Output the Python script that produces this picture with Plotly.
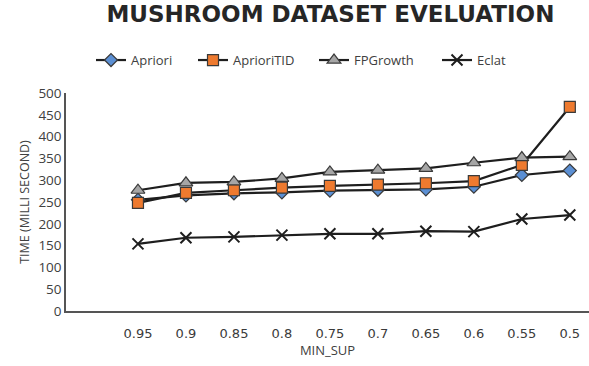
import plotly.graph_objects as go

# Minimum support thresholds (x categories) and run times in milliseconds
min_sup = ["0.95", "0.9", "0.85", "0.8", "0.75", "0.7", "0.65", "0.6", "0.55", "0.5"]
apriori = [255, 265, 270, 272, 276, 278, 279, 285, 312, 322]
apriori_tid = [248, 271, 277, 283, 287, 290, 293, 298, 335, 468]
fp_growth = [277, 294, 296, 304, 319, 323, 327, 340, 352, 354]
eclat = [154, 168, 170, 174, 177, 177, 183, 182, 211, 220]

y_ticks = list(range(0, 501, 50))

x_pos = list(range(1, len(min_sup) + 1))
LINE = "#1e1e1e"

# name, values, marker symbol, fill colour, marker size, legend left edge (px)
series = [
    ("Apriori", apriori, "diamond", "#5b8fd3", 10, 91),
    ("AprioriTID", apriori_tid, "square", "#ee7a2f", 11, 193),
    ("FPGrowth", fp_growth, "triangle-up", "#a6a6a6", 12, 314),
    ("Eclat", eclat, "x-thin", LINE, 11, 437),
]

PLOT_L, PLOT_W = 66, 523

fig = go.Figure()
legend_layout = {}
for i, (name, vals, sym, col, size, lx) in enumerate(series):
    key = "legend" if i == 0 else f"legend{i + 1}"
    fig.add_trace(go.Scatter(
        x=x_pos, y=vals, name=name, mode="lines+markers", legend=key,
        line=dict(color=LINE, width=2.2),
        marker=dict(symbol=sym, size=size, color=col,
                    line=dict(color="#3a3a3a" if sym != "x-thin" else LINE,
                              width=1.2 if sym != "x-thin" else 2)),
    ))
    legend_layout[key] = dict(
        orientation="h", x=(lx - PLOT_L) / PLOT_W, xanchor="left",
        y=1.151, yanchor="middle", bgcolor="rgba(0,0,0,0)",
        font=dict(size=13, color="#404040"),
    )

fig.update_layout(
    width=589, height=366,
    margin=dict(l=PLOT_L, r=0, t=93, b=55),
    paper_bgcolor="white", plot_bgcolor="white",
    font=dict(family="Open Sans, DejaVu Sans, sans-serif", color="#404040", size=12),
    title=dict(text="<b>MUSHROOM DATASET EVELUATION</b>",
               x=0.561, xanchor="center", y=0.962, yanchor="middle",
               font=dict(family="DejaVu Sans", size=23, color="#262626")),
    showlegend=True,
    **legend_layout,
)
fig.update_xaxes(
    range=[-0.5, 10.4], tickvals=x_pos, ticktext=min_sup,
    showgrid=False, zeroline=False, showline=True, linecolor="#555555", linewidth=1.5,
    ticks="", ticklabelstandoff=10,
    tickfont=dict(family="DejaVu Sans", size=13, color="#3a3a3a"),
    title=dict(text="MIN_SUP", standoff=6, font=dict(size=13)),
)
fig.update_yaxes(
    range=[0, 500], tickvals=y_ticks, showgrid=False, zeroline=False,
    showline=True, linecolor="#555555", linewidth=1.5, ticks="",
    title=dict(text="TIME (MILLI SECOND)", standoff=6, font=dict(size=12.5)),
    tickfont=dict(size=13.5),
)

fig.write_html("out.html")
